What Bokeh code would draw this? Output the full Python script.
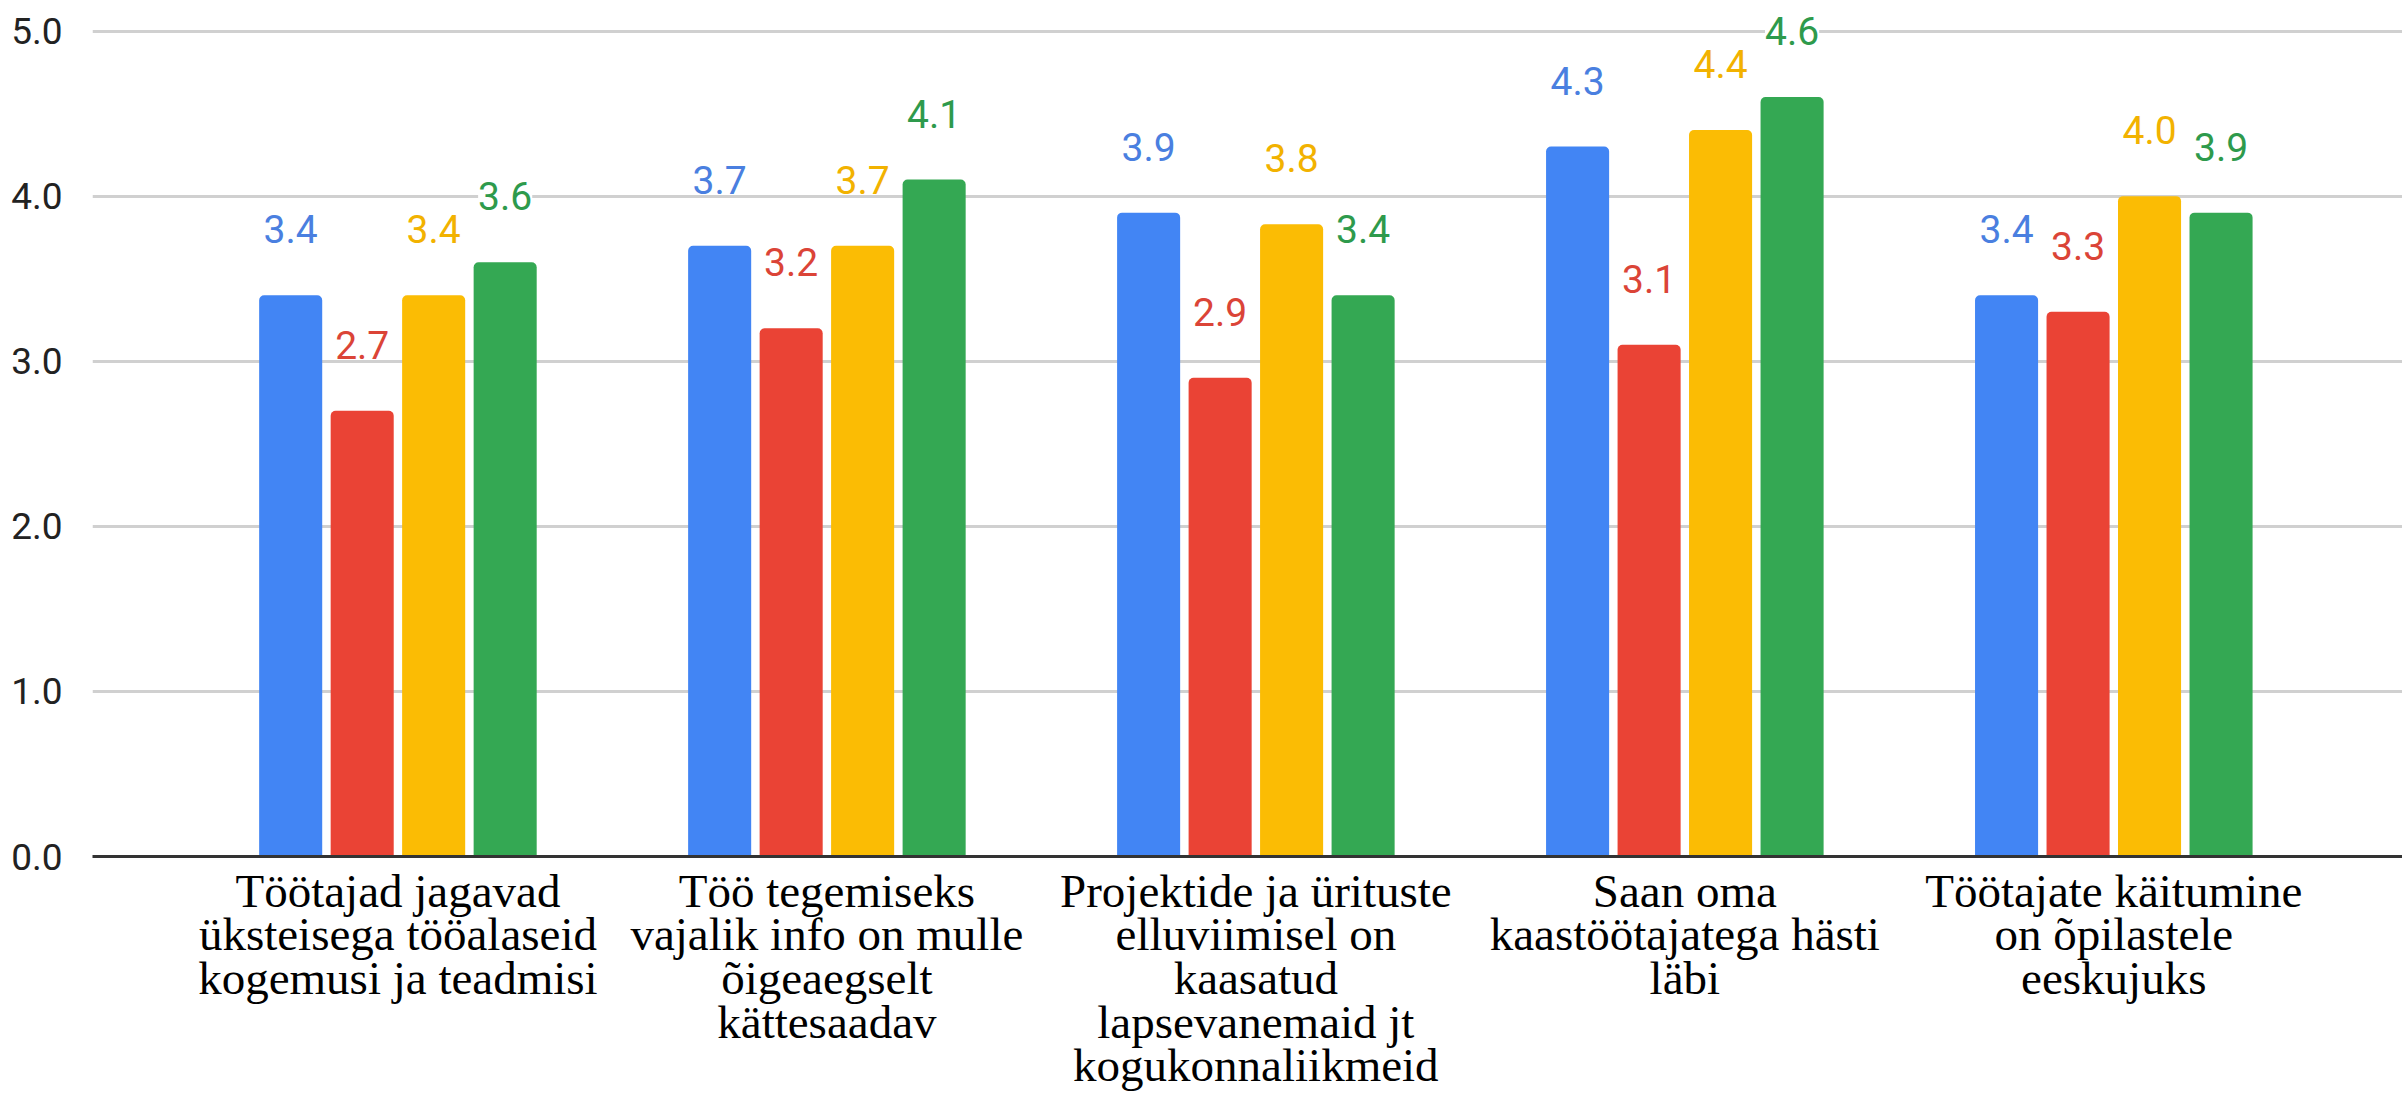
from bokeh.plotting import figure
from bokeh.models import Range1d, FixedTicker, ColumnDataSource, LabelSet, Label, NumeralTickFormatter
from bokeh.core.properties import value
from bokeh.transform import dodge
from bokeh.embed import file_html
from bokeh.resources import INLINE

categories = [
    "Töötajad jagavad\nüksteisega tööalaseid\nkogemusi ja teadmisi",
    "Töö tegemiseks\nvajalik info on mulle\nõigeaegselt\nkättesaadav",
    "Projektide ja ürituste\nelluviimisel on\nkaasatud\nlapsevanemaid jt\nkogukonnaliikmeid",
    "Saan oma\nkaastöötajatega hästi\nläbi",
    "Töötajate käitumine\non õpilastele\neeskujuks",
]
series_blue = [3.4, 3.7, 3.9, 4.3, 3.4]
series_red = [2.7, 3.2, 2.9, 3.1, 3.3]
series_yellow = [3.4, 3.7, 3.83, 4.4, 4.0]
series_green = [3.6, 4.1, 3.4, 4.6, 3.9]
y_ticks = [0, 1, 2, 3, 4, 5]

series = [
    (series_blue, "#4285F4", "#4A7FE0", -0.25),
    (series_red, "#EA4335", "#DB4437", -0.0833),
    (series_yellow, "#FBBC04", "#F2B200", 0.0833),
    (series_green, "#34A853", "#2E9A4C", 0.25),
]

xs = [i + 0.5 for i in range(len(categories))]

p = figure(width=2402, height=1094, output_backend="svg", toolbar_location=None,
           x_range=Range1d(-0.212, 5.173), y_range=Range1d(0, 5.185),
           min_border_left=92, min_border_right=0, min_border_top=0, min_border_bottom=238)
p.outline_line_color = None
p.background_fill_color = "white"
p.xgrid.grid_line_color = None
p.ygrid.grid_line_color = "#d0d0d0"
p.ygrid.grid_line_width = 3

for vals, col, lcol, off in series:
    src = ColumnDataSource(dict(x=xs, top=vals, label=["%.1f" % v for v in vals]))
    p.vbar(x=dodge("x", off, range=p.x_range), top="top", width=0.147, source=src,
           fill_color=col, line_color=None, border_radius=(5, 5, 0, 0))
    labels = LabelSet(x=dodge("x", off, range=p.x_range), y="top", text="label", source=src,
                      y_offset=66, text_align="center", text_baseline="middle",
                      text_color=value(lcol), text_font=value("Roboto"), text_font_size=value("39px"),
                      background_fill_color="white")
    p.add_layout(labels)

p.xaxis.ticker = FixedTicker(ticks=xs)
p.xaxis.major_label_overrides = {x: c for x, c in zip(xs, categories)}
p.xaxis.major_label_text_font = "Liberation Serif"
p.xaxis.major_label_text_font_size = "47px"
p.xaxis.major_label_text_line_height = 0.84
p.xaxis.major_label_text_color = "#000000"
p.xaxis.major_label_standoff = 2
p.xaxis.major_tick_line_color = None
p.xaxis.minor_tick_line_color = None
p.xaxis.axis_line_color = "#333333"
p.xaxis.axis_line_width = 3

p.yaxis.ticker = FixedTicker(ticks=y_ticks)
p.yaxis.formatter = NumeralTickFormatter(format="0.0")
p.yaxis.major_label_text_font = "Roboto"
p.yaxis.major_label_text_font_size = "37px"
p.yaxis.major_label_text_color = "#222222"
p.yaxis.major_label_standoff = 24
p.yaxis.major_tick_line_color = None
p.yaxis.minor_tick_line_color = None
p.yaxis.axis_line_color = None

p.add_layout(Label(x=2290, y=-230, x_units="screen", y_units="screen", text="1",
                   text_font="Roboto", text_font_size="26px", text_color="#555555",
                   text_baseline="bottom"))

open("out.html", "w").write(file_html(p, INLINE))
